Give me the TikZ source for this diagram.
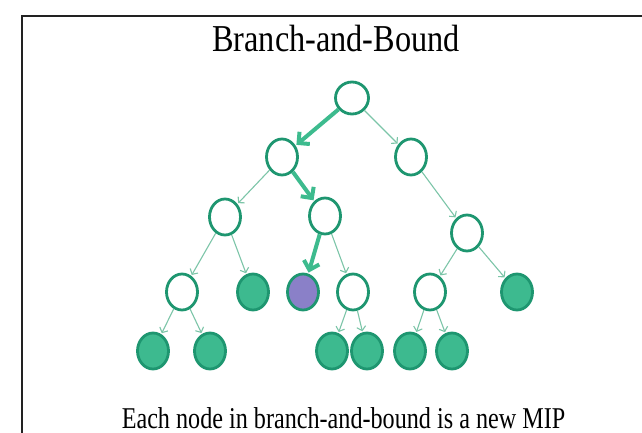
\documentclass[tikz,border=0pt]{standalone}
\usepackage{fontspec}
\setmainfont{Liberation Serif}
\usetikzlibrary{shapes.geometric,arrows.meta}
\definecolor{ringgreen}{HTML}{1E9670}
\definecolor{leafgreen}{HTML}{3DBA8F}
\definecolor{pathgreen}{HTML}{3DBB8E}
\definecolor{edgegreen}{HTML}{7CC5A8}
\definecolor{chosen}{HTML}{8A80C8}
\definecolor{framegray}{HTML}{222222}
\tikzset{
  bbnode/.style={ellipse, draw=ringgreen, line width=2.8pt, minimum width=31pt, minimum height=36pt, inner sep=0pt, fill=white},
  open/.style={bbnode},
  pruned/.style={bbnode, fill=leafgreen},
  current/.style={bbnode, fill=chosen},
  thinedge/.style={draw=edgegreen, line width=1.1pt, -{Straight Barb[length=4pt,width=9pt]}, shorten >=1pt},
  pathedge/.style={draw=pathgreen, line width=4pt, -{Straight Barb[length=8pt,width=16pt]}, shorten >=1pt},
}
\begin{document}
\begin{tikzpicture}[x=1pt,y=-1pt]
\useasboundingbox (0,0) rectangle (642,433);
% slide frame
\draw[framegray, line width=2.2pt] (22,436) -- (22,16) -- (645,16);
% titles
\node[anchor=base, inner sep=0pt] (title) at (336,51.5)
  {\scalebox{0.85}[1]{\fontsize{38}{40}\selectfont Branch-and-Bound}};
\node[anchor=base, inner sep=0pt] (caption) at (343.5,428)
  {\scalebox{0.8}[1]{\fontsize{30.2}{32}\selectfont Each node in branch-and-bound is a new MIP}};
% tree nodes
\node[open, minimum width=33pt, minimum height=32pt] (r) at (352,98) {};
\node[open] (a) at (282,157) {};
\node[open] (b) at (411,157) {};
\node[open] (c) at (225,217) {};
\node[open] (d) at (325,216) {};
\node[open] (e) at (467,233) {};
\node[open] (f) at (182,292) {};
\node[pruned] (g) at (253,292) {};
\node[current] (h) at (303,292) {};
\node[open] (i) at (353,292) {};
\node[open] (j) at (430,292) {};
\node[pruned] (k) at (517,292) {};
\node[pruned] (l) at (153,351) {};
\node[pruned] (m) at (210,351) {};
\node[pruned] (n) at (332,351) {};
\node[pruned] (o) at (367,351) {};
\node[pruned] (p) at (410,351) {};
\node[pruned] (q) at (452,351) {};
% branching edges
\draw[pathedge] (r) -- (a);
\draw[thinedge] (r) -- (b);
\draw[thinedge] (a) -- (c);
\draw[pathedge] (a) -- (d);
\draw[thinedge] (b) -- (e);
\draw[thinedge] (c) -- (f);
\draw[thinedge] (c) -- (g);
\draw[pathedge] (d) -- (h);
\draw[thinedge] (d) -- (i);
\draw[thinedge] (e) -- (j);
\draw[thinedge] (e) -- (k);
\draw[thinedge] (f) -- (l);
\draw[thinedge] (f) -- (m);
\draw[thinedge] (i) -- (n);
\draw[thinedge] (i) -- (o);
\draw[thinedge] (j) -- (p);
\draw[thinedge] (j) -- (q);
\end{tikzpicture}
\end{document}
